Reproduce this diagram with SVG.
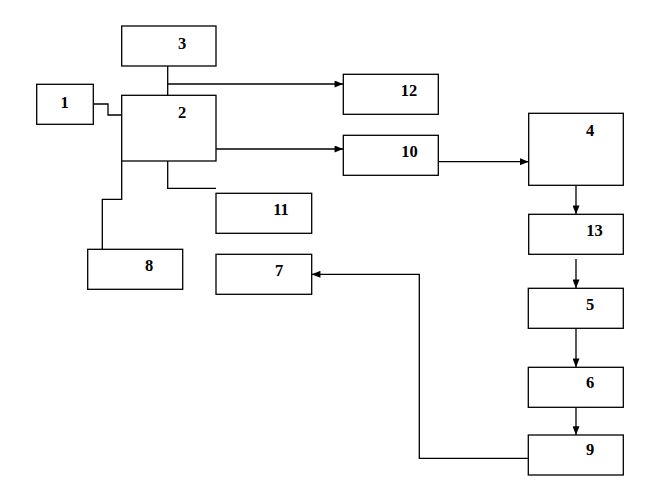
<svg xmlns="http://www.w3.org/2000/svg" width="655" height="485" viewBox="0 0 655 485">
<style>
.box{fill:#fff;stroke:#000;stroke-width:1.3}
.lbl{font-family:"Liberation Serif","Times New Roman",serif;font-weight:bold;font-size:16.5px;fill:#000;text-anchor:middle}
.c{fill:none;stroke:#000;stroke-width:1.3}
</style>
<defs>
<marker id="arr" viewBox="0 0 10 8" refX="10" refY="4" markerWidth="9" markerHeight="7" markerUnits="userSpaceOnUse" orient="auto">
<path d="M0,0 L10,4 L0,8 z" fill="#000"/>
</marker>
</defs>
<rect width="655" height="485" fill="#fff"/>
<g id="connectors">
<path class="c" d="M93.3,104 H108 V115 H121.7"/>
<path class="c" d="M167.7,66 V95.3"/>
<path class="c" d="M167.7,84 H343.3" marker-end="url(#arr)"/>
<path class="c" d="M216,149 H343.3" marker-end="url(#arr)"/>
<path class="c" d="M167.7,161 V188.3 H216"/>
<path class="c" d="M121.7,161 V199.3 H102.3 V249.3"/>
<path class="c" d="M438.3,161.7 H528.7" marker-end="url(#arr)"/>
<path class="c" d="M576,185.3 V214.3" marker-end="url(#arr)"/>
<path class="c" d="M576,259 V288.3" marker-end="url(#arr)"/>
<path class="c" d="M576,328.3 V367.3" marker-end="url(#arr)"/>
<path class="c" d="M576,407.3 V435" marker-end="url(#arr)"/>
<path class="c" d="M528.3,458.3 H419.3 V274.3 H311.7" marker-end="url(#arr)"/>
</g>
<g id="n3"><rect class="box" x="121.7" y="26" width="94.3" height="40"/><text class="lbl" x="182" y="48.5">3</text></g>
<g id="n1"><rect class="box" x="36.7" y="84.3" width="56.6" height="40"/><text class="lbl" x="64.5" y="108.3">1</text></g>
<g id="n2"><rect class="box" x="121.7" y="95.3" width="94.3" height="65.7"/><text class="lbl" x="182" y="118.3">2</text></g>
<g id="n11"><rect class="box" x="216" y="193.3" width="95.7" height="40"/><text class="lbl" x="281" y="215.3">11</text></g>
<g id="n8"><rect class="box" x="87.7" y="249.3" width="95" height="40"/><text class="lbl" x="149" y="271">8</text></g>
<g id="n7"><rect class="box" x="216" y="254.3" width="95.7" height="40"/><text class="lbl" x="279" y="276.3">7</text></g>
<g id="n12"><rect class="box" x="343.3" y="74.3" width="95" height="40"/><text class="lbl" x="409" y="96.3">12</text></g>
<g id="n10"><rect class="box" x="343.3" y="135.3" width="95" height="40"/><text class="lbl" x="409.5" y="157">10</text></g>
<g id="n4"><rect class="box" x="528.7" y="113.3" width="94.6" height="72"/><text class="lbl" x="590" y="136.3">4</text></g>
<g id="n13"><rect class="box" x="528.7" y="214.3" width="94.6" height="40"/><text class="lbl" x="594.5" y="236.3">13</text></g>
<g id="n5"><rect class="box" x="528.3" y="288.3" width="95" height="40"/><text class="lbl" x="590" y="310.3">5</text></g>
<g id="n6"><rect class="box" x="528.3" y="367.3" width="95" height="40"/><text class="lbl" x="590" y="388.3">6</text></g>
<g id="n9"><rect class="box" x="528.3" y="435" width="95" height="40"/><text class="lbl" x="590" y="455.3">9</text></g>
</svg>
